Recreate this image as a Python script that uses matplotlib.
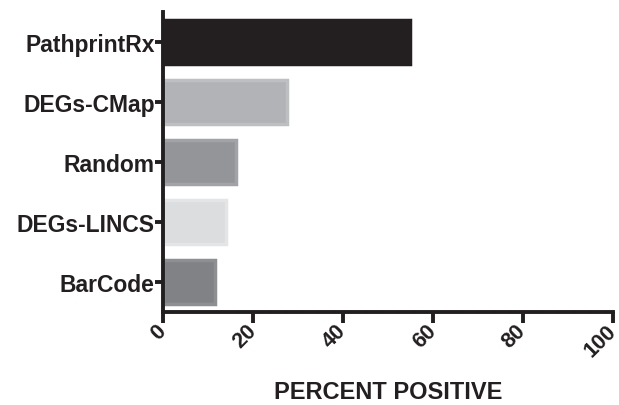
import matplotlib.pyplot as plt

plt.rcParams['font.family'] = ['Liberation Sans', 'DejaVu Sans']

# data, bottom to top
methods = ["BarCode", "DEGs-LINCS", "Random", "DEGs-CMap", "PathprintRx"]
percent_positive = [11.6, 13.9, 16.2, 27.5, 55.0]
face_colors = ["#808285", "#dcdddf", "#939598", "#b1b3b6", "#231f20"]
edge_colors = ["#8e8f92", "#e4e5e6", "#a2a3a6", "#bdbfc1", "#231f20"]
x_ticks = [0, 20, 40, 60, 80, 100]

ink = "#231f20"

fig = plt.figure(figsize=(6.19, 4.06), dpi=100)
ax = fig.add_axes([0.2633, 0.229, 0.7267, 0.739])

ax.barh(range(len(methods)), percent_positive, height=0.72,
        color=face_colors, edgecolor=edge_colors, linewidth=2.5)

ax.set_xlim(0, 100)
ax.set_ylim(-0.5, len(methods) - 0.5)
ax.set_yticks(range(len(methods)))
ax.set_yticklabels(methods, fontsize=16.5, fontweight="bold", color=ink)
ax.set_xticks(x_ticks)
ax.set_xticklabels([str(t) for t in x_ticks], fontsize=15.5, fontweight="bold",
                   color=ink, rotation=45, ha="right", va="center",
                   rotation_mode="anchor")

for side in ["top", "right"]:
    ax.spines[side].set_visible(False)
for side in ["left", "bottom"]:
    ax.spines[side].set_linewidth(2.8)
    ax.spines[side].set_color(ink)

ax.tick_params(axis="y", length=6, width=2.8, color=ink, pad=0)
ax.tick_params(axis="x", length=8, width=2.8, color=ink, pad=3)

ax.set_xlabel("PERCENT POSITIVE", fontsize=17, fontweight="bold", color=ink,
              labelpad=14)

fig.savefig("out.png", dpi=100)
